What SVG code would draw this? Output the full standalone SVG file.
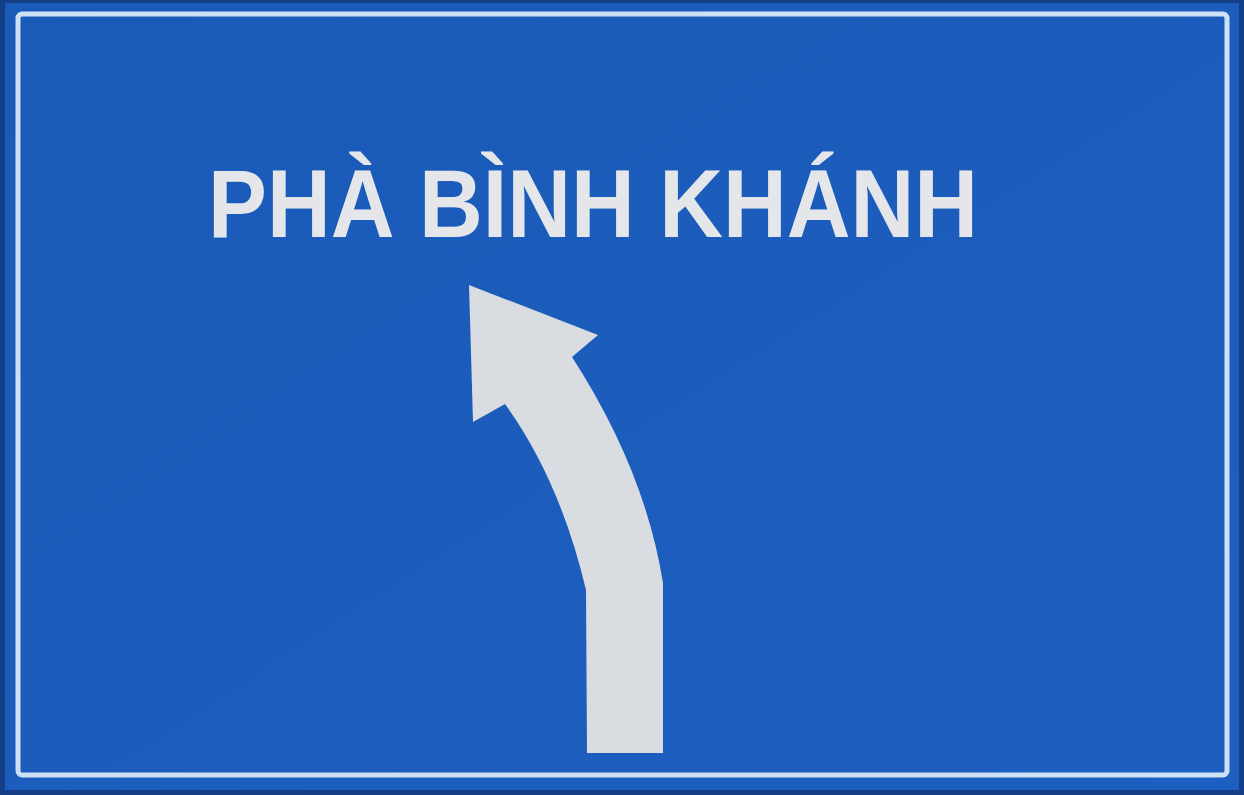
<svg xmlns="http://www.w3.org/2000/svg" width="1244" height="795" viewBox="0 0 1244 795">
  <defs>
    <style>
      .sign-text { font-family: "Liberation Sans", Arial, sans-serif; font-weight: bold; fill: #e4e6ea; }
    </style>
    <linearGradient id="bg" x1="0" y1="0" x2="1" y2="1">
      <stop offset="0" stop-color="#1a5ab8"/>
      <stop offset="1" stop-color="#1d5fc0"/>
    </linearGradient>
  </defs>
  <g id="sign">
    <rect x="0" y="0" width="1244" height="795" fill="#143f86"/>
    <rect x="5" y="3" width="1234" height="787" fill="url(#bg)"/>
    <rect x="18" y="14" width="1209" height="761" rx="4" fill="none" stroke="#cfe0f4" stroke-width="5"/>
  </g>
  <g id="label">
    <text class="sign-text" x="208" y="237" font-size="96" textLength="770" lengthAdjust="spacingAndGlyphs">PHÀ BÌNH KHÁNH</text>
  </g>
  <g id="arrow">
    <path d="M469,285 L598,335 L572,357 Q645,470 663,583 L663,753 L587,753 L586,590 Q560,480 505,404 L473,422 Z" fill="#d9dde2"/>
  </g>
</svg>
